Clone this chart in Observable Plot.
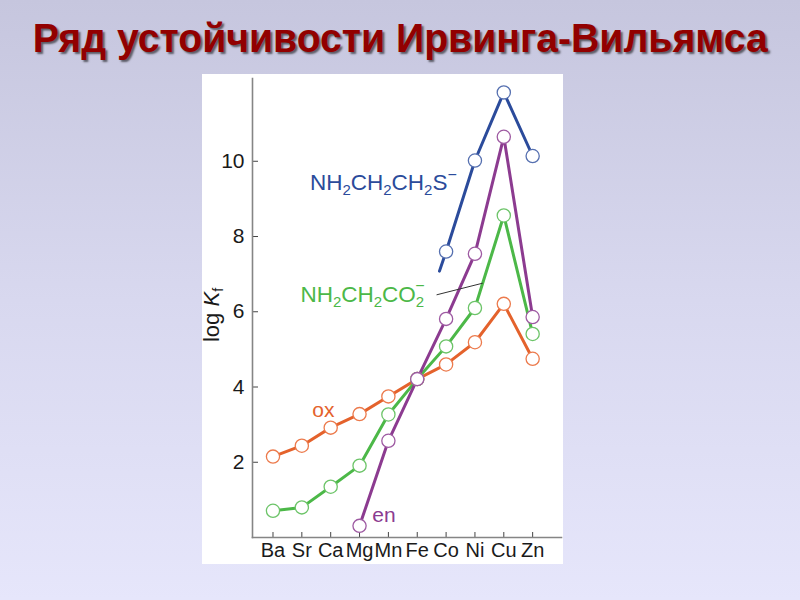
<!DOCTYPE html>
<html><head><meta charset="utf-8">
<script src="https://cdn.jsdelivr.net/npm/d3@7"></script>
<script src="https://cdn.jsdelivr.net/npm/@observablehq/plot@0.6"></script>
<style>
html,body{margin:0;padding:0;width:800px;height:600px;overflow:hidden;}
body{background:linear-gradient(to bottom,#c6c6de 0%,#d8d8ef 50%,#e6e6fb 100%);position:relative;font-family:"Liberation Sans",Arial,sans-serif;}
#title{position:absolute;left:0;top:18px;width:800px;text-align:center;line-height:1;}
#tt{display:inline-block;font-family:"Liberation Sans Narrow","Liberation Sans",Arial,sans-serif;font-weight:bold;font-size:40px;color:#920000;text-shadow:2px 2px 2px rgba(0,0,0,0.55);white-space:nowrap;transform-origin:50% 50%;}
#panel{position:absolute;left:202px;top:74px;width:361px;height:490px;background:#fff;}
#panel svg{display:block;}
#panel svg g[aria-label="x-axis tick label"] text{font-size:20px;}
#panel svg g[aria-label="y-axis tick label"] text{font-size:21px;}
</style></head><body>
<div id="title"><span id="tt">Ряд устойчивости Ирвинга-Вильямса</span></div>
<div id="panel"></div>
<script>
// ---- data ----
const metals = ["Ba","Sr","Ca","Mg","Mn","Fe","Co","Ni","Cu","Zn"];
const oxValues  = [2.15, 2.44, 2.92, 3.28, 3.75, 4.21, 4.60, 5.19, 6.21, 4.75];
const glyValues = [0.71, 0.80, 1.35, 1.91, 3.27, 4.21, 5.08, 6.10, 8.56, 5.41];
const enMetals  = ["Mg","Mn","Fe","Co","Ni","Cu","Zn"];
const enValues  = [0.31, 2.57, 4.21, 5.81, 7.54, 10.65, 5.86];
const thioMetals = ["Co","Ni","Cu","Zn"];
const thioValues = [7.60, 10.02, 11.83, 10.14];
const thioStubX = 5.77, thioStubY = 7.08;   // line starts between Fe and Co without a marker
const yTicks = [2, 4, 6, 8, 10];
const labelNames = ["thio", "gly", "ox", "en"];
const labelTexts = ["NH{2}CH{2}CH{2}S[−]", "NH{2}CH{2}CO{2}<−>", "ox", "en"];
const labelX = [1.28, 0.95, 1.36, 3.44];
const labelY = [9.23, 6.26, 3.20, 0.42];
const leaderFrom = [5.67, 6.45], leaderTo = [7.27, 6.76];

const colors = {ox:"#e4622c", gly:"#4cb848", en:"#8c3b90", thio:"#2b4b9b"};
const dotColors = {ox:"#ec7a4c", gly:"#6cc468", en:"#9e5aa2", thio:"#5670b0"};

const idx = m => metals.indexOf(m);
const rowsOf = (ms, vs) => ms.map((m, k) => ({x: idx(m), y: vs[k]}));
const ox = rowsOf(metals, oxValues);
const gly = rowsOf(metals, glyValues);
const en = rowsOf(enMetals, enValues);
const thio = rowsOf(thioMetals, thioValues);
const thioLine = [{x: thioStubX, y: thioStubY}, ...thio];
const labels = labelNames.map((n, i) => ({series: n, text: labelTexts[i], x: labelX[i], y: labelY[i]}));

const series = [["ox", ox, ox], ["gly", gly, gly], ["en", en, en], ["thio", thioLine, thio]];

const chart = Plot.plot({
  width: 361, height: 490,
  marginLeft: 50, marginRight: 2, marginTop: 4, marginBottom: 27,
  style: {background: "transparent", fontFamily: "'Liberation Sans', Arial, sans-serif", fontSize: "20px", color: "#1a1a1a", overflow: "visible"},
  x: {type: "linear", domain: [-0.71, 10.0], label: null},
  y: {domain: [0, 12.2], label: null},
  marks: [
    Plot.axisX({ticks: d3.range(metals.length), tickSize: 5, dy: -5, tickFormat: () => "", stroke: "#444", label: null}),
    Plot.axisX({ticks: d3.range(metals.length), tickSize: 0, tickPadding: 5, tickFormat: i => metals[i], fontSize: 20, label: null}),
    Plot.axisY({ticks: yTicks, tickSize: 6, dx: 6, tickFormat: () => "", stroke: "#444", label: null}),
    Plot.axisY({ticks: yTicks, tickSize: 0, tickPadding: 8, fontSize: 21, label: null}),
    Plot.frame({anchor: "left", stroke: "#858585", strokeWidth: 1.6}),
    Plot.frame({anchor: "bottom", stroke: "#858585", strokeWidth: 1.6}),
    ...series.map(([n, lineData]) => Plot.line(lineData, {x: "x", y: "y", stroke: colors[n], strokeWidth: 3})),
    ...series.map(([n, , dotData]) => Plot.dot(dotData, {x: "x", y: "y", r: 6.6, fill: "white", stroke: dotColors[n], strokeWidth: 1.3})),
    Plot.link([{x1: leaderFrom[0], y1: leaderFrom[1], x2: leaderTo[0], y2: leaderTo[1]}], {x1: "x1", y1: "y1", x2: "x2", y2: "y2", stroke: "#333", strokeWidth: 1}),
    Plot.text(labels, {x: "x", y: "y", text: "text", fill: d => colors[d.series], textAnchor: "start", lineAnchor: "bottom", fontSize: 21})
  ],
  color: {type: "identity"}
});
document.getElementById("panel").appendChild(chart);

// rich text (sub/superscripts) for the series labels
const svg = d3.select(chart);
svg.selectAll("g[aria-label='text'] text").each(function() {
  const markup = this.textContent;
  if (!/[{[<]/.test(markup)) return;
  const sel = d3.select(this);
  sel.text("").attr("font-size", 22.5);
  const re = /\{([^}]*)\}|\[([^\]]*)\]|<([^>]*)>|([^{[<]+)/g;
  let m, shift = 0;
  const subDy = 5, supDy = -10.5;
  while ((m = re.exec(markup))) {
    if (m[1] !== undefined) { sel.append("tspan").attr("dy", subDy - shift).attr("font-size", 15).text(m[1]); shift = subDy; }
    else if (m[2] !== undefined) { sel.append("tspan").attr("dy", supDy - shift).attr("font-size", 16).text(m[2]); shift = supDy; }
    else if (m[3] !== undefined) { sel.append("tspan").attr("dx", -9).attr("dy", supDy - shift).attr("font-size", 16).text(m[3]); shift = supDy; }
    else { sel.append("tspan").attr("dy", -shift).text(m[4]); shift = 0; }
  }
});

// y axis label: log K_f
const yl = svg.append("text")
  .attr("transform", "translate(17,241) rotate(-90)")
  .attr("text-anchor", "middle")
  .attr("font-size", 22)
  .attr("fill", "#1a1a1a");
yl.append("tspan").text("log ");
yl.append("tspan").attr("font-style", "italic").text("K");
yl.append("tspan").attr("font-size", 14).attr("dy", 4).text("f");

// fit the title width
const tt = document.getElementById("tt");
const w = tt.getBoundingClientRect().width;
tt.style.transform = `scaleX(${735 / w})`;
</script>
</body></html>
